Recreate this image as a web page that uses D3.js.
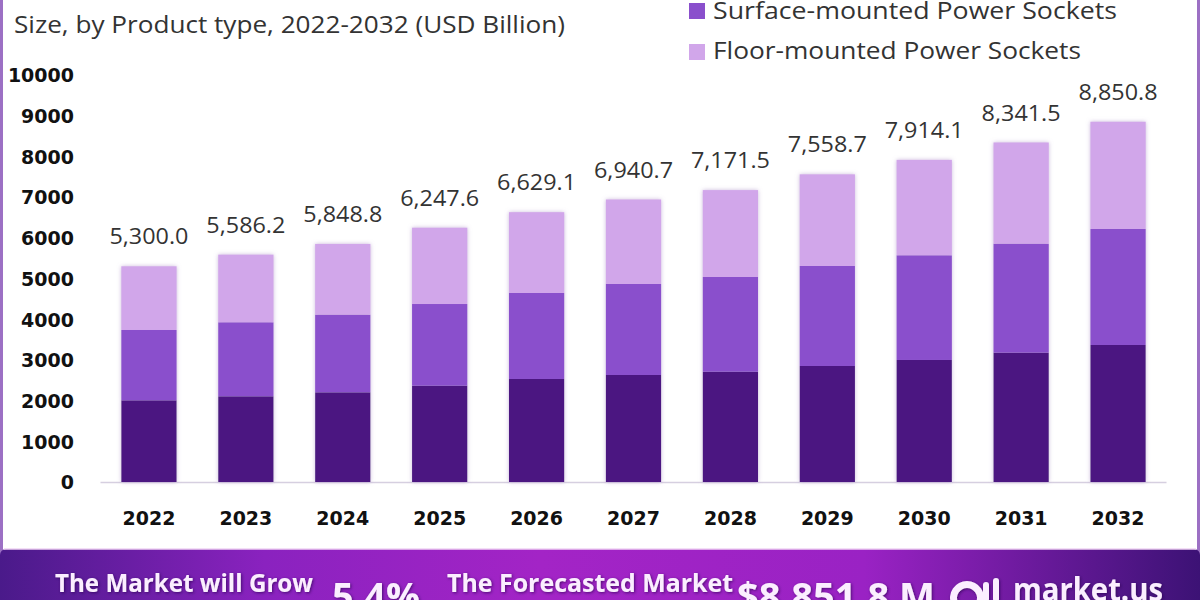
<!DOCTYPE html>
<html>
<head>
<meta charset="utf-8">
<script src="https://cdn.jsdelivr.net/npm/d3@7"></script>
<style>
  html, body { margin: 0; padding: 0; background: #fff; }
  svg { display: block; }
</style>
</head>
<body>
<svg id="chart" width="1200" height="600"></svg>
<script>
"use strict";
var years = ['2022', '2023', '2024', '2025', '2026', '2027', '2028', '2029', '2030', '2031', '2032'];
var wallMounted = [2007, 2106, 2204, 2366, 2531, 2629, 2710, 2850, 2998, 3177, 3366];
var surfaceMounted = [1728, 1818, 1907, 2007, 2113, 2236, 2327, 2457, 2572, 2678, 2850];
var floorMounted = [1565, 1662, 1738, 1875, 1985, 2076, 2135, 2252, 2344, 2487, 2635];
var totals = [5300.0, 5586.2, 5848.8, 6247.6, 6629.1, 6940.7, 7171.5, 7558.7, 7914.1, 8341.5, 8850.8];
var yTicks = [0, 1000, 2000, 3000, 4000, 5000, 6000, 7000, 8000, 9000, 10000];
var seriesNames = ['Wall-mounted Power Sockets', 'Surface-mounted Power Sockets', 'Floor-mounted Power Sockets'];
var seriesColors = ['#4b1681', '#8a4fcc', '#d1a6ea'];
var titleText = 'Size, by Product type, 2022-2032 (USD Billion)';
var cagrText = '5.4%';
var forecastText = '$8,851.8 M';

var svg = d3.select('#chart');
var defs = svg.append('defs');

var grad = defs.append('linearGradient').attr('id', 'banner').attr('x1', '0%').attr('x2', '100%');
grad.append('stop').attr('offset', '0%').attr('stop-color', '#4a1a8a');
grad.append('stop').attr('offset', '22%').attr('stop-color', '#8a22bf');
grad.append('stop').attr('offset', '45%').attr('stop-color', '#a324c6');
grad.append('stop').attr('offset', '72%').attr('stop-color', '#9a22c4');
grad.append('stop').attr('offset', '100%').attr('stop-color', '#3c1275');

var shadow = defs.append('filter').attr('id', 'glow')
    .attr('x', '-20%').attr('y', '-20%').attr('width', '140%').attr('height', '140%');
shadow.append('feDropShadow').attr('dx', 0).attr('dy', 0).attr('stdDeviation', 2)
    .attr('flood-color', '#a88ac4').attr('flood-opacity', 0.6);

var textGlow = defs.append('filter').attr('id', 'tglow')
    .attr('x', '-10%').attr('y', '-30%').attr('width', '120%').attr('height', '160%');
textGlow.append('feDropShadow').attr('dx', 1).attr('dy', 1).attr('stdDeviation', 1.5)
    .attr('flood-color', '#2a0650').attr('flood-opacity', 0.7);

// frame
svg.append('rect').attr('x', 1.5).attr('y', -10).attr('width', 1197).attr('height', 620)
    .attr('rx', 6).attr('fill', 'none').attr('stroke', '#9c70c4').attr('stroke-width', 3);

var x = d3.scaleBand().domain(years).range([100.5, 1166.5]).paddingInner(0.43).paddingOuter(0.215);
var y = d3.scaleLinear().domain([0, 10000]).range([482, 75]);

var rows = years.map(function (yr, i) {
    return { year: yr, wall: wallMounted[i], surface: surfaceMounted[i], floor: floorMounted[i] };
});
var stack = d3.stack().keys(['wall', 'surface', 'floor'])(rows);

svg.append('text').attr('x', 14).attr('y', 33).text(titleText)
    .attr('font-family', 'Open Sans, sans-serif').attr('font-size', 24).attr('fill', '#333')
    .attr('textLength', 551).attr('lengthAdjust', 'spacingAndGlyphs');

var legend = svg.append('g');
[1, 2].forEach(function (k, j) {
    legend.append('rect').attr('x', 689).attr('y', 3 + j * 41).attr('width', 16).attr('height', 16)
        .attr('fill', seriesColors[k]);
    legend.append('text').attr('x', 713).attr('y', 19 + j * 40).text(seriesNames[k])
        .attr('font-family', 'Open Sans, sans-serif').attr('font-size', 24).attr('fill', '#333')
        .attr('textLength', k === 1 ? 404 : 368).attr('lengthAdjust', 'spacingAndGlyphs');
});

svg.append('line').attr('x1', x.range()[0]).attr('x2', x.range()[1])
    .attr('y1', y(0) + 0.5).attr('y2', y(0) + 0.5).attr('stroke', '#d6cfe0').attr('stroke-width', 1.5);

var bars = svg.append('g').attr('filter', 'url(#glow)');
stack.forEach(function (layer, k) {
    bars.selectAll('rect.s' + k).data(layer).enter().append('rect')
        .attr('class', 's' + k)
        .attr('x', function (d) { return x(d.data.year); })
        .attr('width', x.bandwidth())
        .attr('y', function (d) { return y(d[1]); })
        .attr('height', function (d) { return y(d[0]) - y(d[1]); })
        .attr('fill', seriesColors[k]);
});

var fmt = d3.format(',.1f');
svg.append('g').selectAll('text').data(years).enter().append('text')
    .attr('x', function (d) { return x(d) + x.bandwidth() / 2; })
    .attr('y', function (d, i) { return y(totals[i]) - 22; })
    .attr('text-anchor', 'middle')
    .attr('font-family', 'Open Sans, sans-serif').attr('font-size', 21).attr('fill', '#333')
    .attr('textLength', 79).attr('lengthAdjust', 'spacingAndGlyphs')
    .text(function (d, i) { return fmt(totals[i]); });

var yAxis = svg.append('g').attr('transform', 'translate(74,0)')
    .call(d3.axisLeft(y).tickValues(yTicks).tickSize(0).tickPadding(0).tickFormat(d3.format('d')));
yAxis.select('.domain').remove();
yAxis.selectAll('text').attr('font-family', 'DejaVu Sans, sans-serif').attr('font-weight', 'bold')
    .attr('font-size', 19).attr('fill', '#111').attr('dy', '0.36em');

var xAxis = svg.append('g').attr('transform', 'translate(0,' + y(0) + ')')
    .call(d3.axisBottom(x).tickSize(0).tickPadding(0));
xAxis.select('.domain').remove();
xAxis.selectAll('text').attr('font-family', 'DejaVu Sans, sans-serif').attr('font-weight', 'bold')
    .attr('font-size', 19).attr('fill', '#111').attr('dy', 0).attr('y', 43);

// banner
var banner = svg.append('g');
banner.append('rect').attr('x', 0).attr('y', 549).attr('width', 1200).attr('height', 60)
    .attr('rx', 6).attr('fill', 'url(#banner)');
banner.append('line').attr('x1', 4).attr('x2', 1196).attr('y1', 549).attr('y2', 549)
    .attr('stroke', '#efd3f3').attr('stroke-width', 1.5);

function bannerText(str, x0, yb, size, len) {
    banner.append('text').attr('x', x0).attr('y', yb).text(str)
        .attr('font-family', 'Open Sans, sans-serif').attr('font-weight', 'bold')
        .attr('font-size', size).attr('fill', '#fbeeff').attr('filter', 'url(#tglow)')
        .attr('textLength', len).attr('lengthAdjust', 'spacingAndGlyphs');
}
bannerText('The Market will Grow', 55, 592, 25, 258);
bannerText(cagrText, 332, 610, 37, 88);
bannerText('The Forecasted Market', 447, 592, 25, 286);
bannerText(forecastText, 737, 610, 37, 198);
bannerText('market.us', 1013, 601, 33, 150);

var logo = banner.append('g').attr('filter', 'url(#tglow)');
logo.append('path')
    .attr('d', d3.arc().innerRadius(10).outerRadius(17).startAngle(-Math.PI * 0.62).endAngle(Math.PI * 0.62)())
    .attr('transform', 'translate(967,598)').attr('fill', '#fbeeff');
logo.append('rect').attr('x', 983).attr('y', 582).attr('width', 6).attr('height', 20).attr('rx', 3).attr('fill', '#fbeeff');
logo.append('rect').attr('x', 993).attr('y', 578).attr('width', 6).attr('height', 24).attr('rx', 3).attr('fill', '#fbeeff');
</script>
</body>
</html>
